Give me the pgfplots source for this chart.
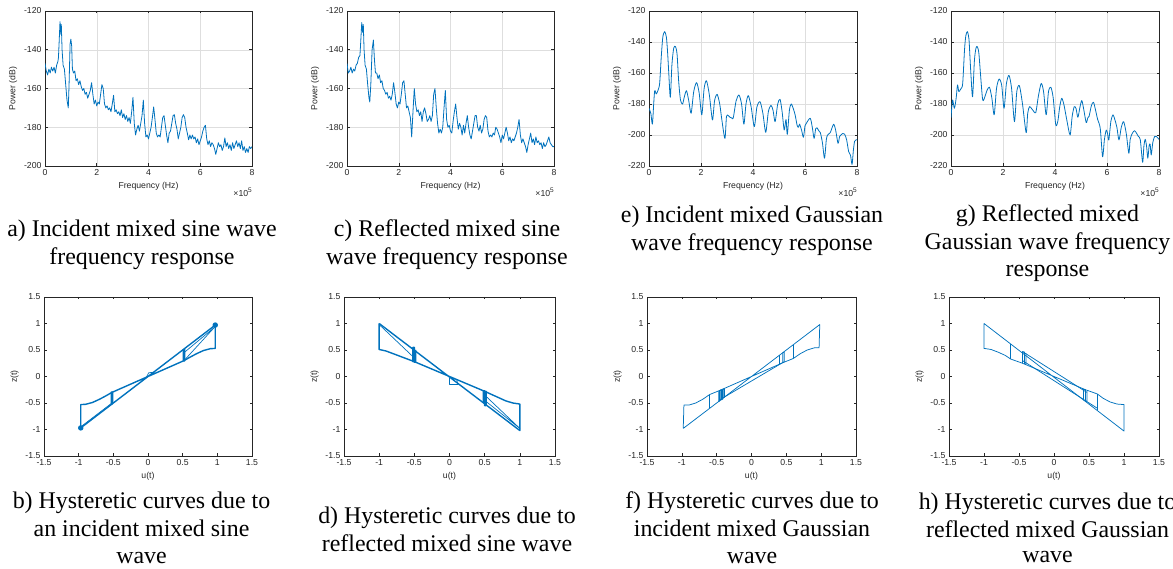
\documentclass[border=0pt]{standalone}
\usepackage{fontspec}
\setmainfont{Liberation Serif}
\newfontfamily\arial{Liberation Sans}
\usepackage{pgfplots}
\pgfplotsset{compat=1.18}
\definecolor{mblue}{RGB}{0,114,189}
\definecolor{axgray}{RGB}{38,38,38}
\newcommand{\tickfont}{\arial\fontsize{8.7}{10}\selectfont}
\newcommand{\capfont}{\fontsize{23.9}{28}\selectfont}
\pgfplotsset{
  mat/.style={scale only axis,
    axis line style={axgray, line width=0.5pt},
    tick style={axgray, line width=0.5pt},
    major tick length=2.5pt, tick align=inside,
    ticklabel style={font=\tickfont, text=axgray},
    label style={font=\tickfont, text=axgray},
    /pgf/number format/assume math mode=true,
    every axis plot post/.append style={mblue, solid, mark=none, line join=round}},
  spec/.style={mat, height=155pt, xmin=0, xmax=8, xtick={0,2,4,6,8},
    grid=major, grid style={black!13, line width=0.4pt},
    xlabel={Frequency (Hz)}, ylabel={Power (dB)},
    every axis plot/.append style={line width=0.8pt}},
  hyst/.style={mat, height=159pt, xmin=-1.5, xmax=1.5, ymin=-1.5, ymax=1.5,
    xtick={-1.5,-1,-0.5,0,0.5,1,1.5}, ytick={-1.5,-1,-0.5,0,0.5,1,1.5},
    xlabel={u(t)}, ylabel={z(t)}},
}
\begin{document}
\begin{tikzpicture}
% ---------------- a) incident sine spectrum
\begin{axis}[spec, name=A, at={(45pt,403pt)}, anchor=south west, width=207pt,
  ymin=-200, ymax=-120, ytick={-200,-180,-160,-140,-120}]
\addplot coordinates {(0,-147) (0.05,-151) (0.1,-153) (0.15,-150) (0.2,-152) (0.25,-149) (0.3,-151) (0.35,-149) (0.4,-152) (0.45,-148) (0.5,-146) (0.52,-144) (0.55,-135) (0.58,-125.5) (0.61,-132) (0.63,-127) (0.66,-140) (0.7,-148) (0.75,-150) (0.8,-158) (0.85,-166) (0.9,-170) (0.93,-158) (0.97,-137) (1.0,-134.5) (1.03,-138) (1.06,-150) (1.1,-152) (1.15,-151) (1.2,-156) (1.25,-155) (1.3,-158) (1.35,-156) (1.4,-159) (1.45,-161) (1.5,-160) (1.55,-163) (1.6,-162) (1.65,-165) (1.7,-163) (1.75,-161) (1.8,-157) (1.85,-163) (1.9,-168) (1.95,-166) (2.0,-169) (2.05,-167) (2.1,-168) (2.15,-163) (2.2,-158) (2.25,-160) (2.3,-168) (2.35,-170) (2.4,-169) (2.45,-171) (2.5,-170) (2.55,-172) (2.6,-168) (2.65,-163.5) (2.7,-172) (2.75,-171) (2.8,-173) (2.85,-172) (2.9,-174) (2.95,-171) (3.0,-175) (3.05,-173) (3.1,-176) (3.15,-174) (3.2,-177) (3.25,-175) (3.3,-178) (3.35,-172) (3.4,-164.5) (3.45,-178) (3.5,-184) (3.55,-181) (3.6,-179) (3.65,-182) (3.7,-178) (3.75,-174) (3.8,-166) (3.85,-178) (3.9,-185) (3.95,-184) (4.0,-186) (4.05,-183) (4.1,-180) (4.15,-175) (4.2,-169.5) (4.25,-176) (4.3,-183) (4.35,-185) (4.4,-184) (4.45,-185) (4.5,-180) (4.55,-175) (4.6,-174) (4.65,-179) (4.7,-184) (4.75,-188) (4.8,-183) (4.85,-182) (4.9,-178) (4.95,-174) (5.0,-173.5) (5.05,-178) (5.1,-181) (5.15,-186) (5.2,-183) (5.25,-180) (5.3,-175) (5.35,-173.5) (5.4,-175) (5.45,-180) (5.5,-183) (5.55,-186.5) (5.6,-184) (5.65,-186) (5.7,-184) (5.75,-186) (5.8,-185) (5.85,-188) (5.9,-186) (5.95,-189) (6.0,-187) (6.05,-185) (6.1,-182) (6.15,-180) (6.2,-179) (6.25,-186) (6.3,-189) (6.35,-187) (6.4,-190) (6.45,-188) (6.5,-189) (6.55,-191) (6.6,-194) (6.65,-191) (6.7,-188) (6.75,-190) (6.8,-189) (6.85,-192) (6.9,-190) (6.95,-185.5) (7.0,-190) (7.05,-188) (7.1,-191) (7.15,-189) (7.2,-192) (7.25,-188) (7.3,-191) (7.35,-189) (7.4,-187) (7.45,-190) (7.5,-188) (7.55,-191) (7.6,-187) (7.65,-192) (7.7,-190) (7.75,-193) (7.8,-191) (7.85,-193) (7.9,-190) (7.95,-191) (8.0,-190)};
\end{axis}
% ---------------- c) reflected sine spectrum
\begin{axis}[spec, name=C, at={(347pt,403pt)}, anchor=south west, width=207pt,
  ymin=-200, ymax=-120, ytick={-200,-180,-160,-140,-120}]
\addplot coordinates {(0,-147) (0.05,-152) (0.1,-151) (0.15,-149) (0.2,-152) (0.25,-150) (0.3,-151) (0.35,-148) (0.4,-147) (0.45,-144) (0.5,-143) (0.53,-136) (0.57,-126) (0.6,-131) (0.63,-127) (0.66,-140) (0.7,-148) (0.75,-150) (0.8,-158) (0.85,-165) (0.88,-167) (0.92,-158) (0.97,-140) (1.02,-135) (1.06,-145) (1.1,-152) (1.15,-152) (1.2,-155) (1.25,-153) (1.3,-157) (1.35,-156) (1.4,-160) (1.45,-161) (1.5,-163) (1.55,-162) (1.6,-165) (1.65,-164) (1.7,-166) (1.75,-163) (1.8,-157) (1.85,-162) (1.9,-168) (1.95,-170) (2.0,-167) (2.05,-168) (2.1,-163) (2.15,-157) (2.2,-156) (2.25,-163) (2.3,-170) (2.35,-169) (2.4,-172) (2.45,-175) (2.5,-185) (2.55,-172) (2.6,-160) (2.65,-168) (2.7,-172) (2.75,-171) (2.8,-174) (2.85,-172) (2.9,-177) (2.95,-172) (3.0,-170) (3.05,-173) (3.1,-177) (3.15,-176) (3.2,-174) (3.25,-177) (3.3,-174) (3.35,-163) (3.4,-160) (3.45,-170) (3.5,-178) (3.55,-183) (3.6,-181) (3.65,-183) (3.7,-180) (3.75,-170) (3.8,-161) (3.85,-176) (3.9,-180) (3.95,-179) (4.0,-182) (4.05,-183) (4.1,-177) (4.15,-172) (4.2,-168) (4.25,-175) (4.3,-181) (4.35,-178) (4.4,-180) (4.45,-184) (4.5,-179) (4.55,-183) (4.6,-178) (4.65,-174) (4.7,-180) (4.75,-184) (4.8,-186) (4.85,-182) (4.9,-178) (4.95,-174) (5.0,-174) (5.05,-180) (5.1,-182) (5.15,-179) (5.2,-183) (5.25,-181) (5.3,-176) (5.35,-174) (5.4,-175) (5.45,-182) (5.5,-185) (5.55,-184) (5.6,-185) (5.65,-183) (5.7,-184) (5.75,-180) (5.8,-181) (5.85,-183) (5.9,-185) (5.95,-188) (6.0,-184) (6.05,-186) (6.1,-183) (6.15,-180) (6.2,-183) (6.25,-187) (6.3,-185) (6.35,-188) (6.4,-186) (6.45,-187) (6.5,-185) (6.55,-183) (6.6,-180) (6.65,-176) (6.7,-184) (6.75,-188) (6.8,-186) (6.85,-188) (6.9,-190) (6.95,-193) (7.0,-189) (7.05,-186) (7.1,-183) (7.15,-188) (7.2,-186) (7.25,-189) (7.3,-185) (7.35,-188) (7.4,-187) (7.45,-189) (7.5,-188) (7.55,-191) (7.6,-188) (7.65,-190) (7.7,-189) (7.75,-187) (7.8,-185) (7.85,-188) (7.9,-189) (7.95,-190) (8.0,-190)};
\end{axis}
% ---------------- e) incident Gaussian spectrum
\begin{axis}[spec, name=E, at={(649pt,403pt)}, anchor=south west, width=208pt,
  ymin=-220, ymax=-120, ytick={-220,-200,-180,-160,-140,-120}]
\addplot+[smooth, tension=0.45] coordinates {(0,-182.8) (0.07,-186) (0.13,-193) (0.18,-180) (0.22,-171.4) (0.28,-173.5) (0.35,-171) (0.41,-166.7) (0.47,-150) (0.53,-137) (0.6,-133.3) (0.67,-137) (0.72,-148) (0.76,-160) (0.82,-175.7) (0.88,-155) (0.95,-144) (1.02,-143) (1.08,-148) (1.14,-165) (1.21,-177.4) (1.29,-180) (1.35,-176) (1.44,-171.4) (1.53,-178) (1.62,-186) (1.72,-172) (1.83,-166.2) (1.93,-173) (2.03,-187) (2.12,-170) (2.21,-165) (2.32,-174) (2.44,-190.3) (2.52,-178) (2.62,-173.8) (2.72,-180) (2.8,-190) (2.92,-202.2) (2.98,-188) (3.05,-187.5) (3.11,-188.5) (3.18,-189) (3.24,-189) (3.35,-178) (3.46,-174.2) (3.56,-180) (3.65,-193) (3.73,-180) (3.82,-174.6) (3.93,-182) (4.05,-194.6) (4.15,-182) (4.27,-178.5) (4.38,-186) (4.49,-198.3) (4.59,-185) (4.69,-180.9) (4.77,-184) (4.85,-191.4) (4.95,-180) (5.04,-177) (5.12,-185) (5.2,-196.8) (5.27,-190) (5.32,-199.6) (5.4,-184) (5.47,-180) (5.55,-183) (5.62,-187) (5.7,-194) (5.75,-195) (5.79,-193) (5.87,-197) (5.94,-201.5) (6.0,-194) (6.05,-192.5) (6.2,-189.2) (6.28,-195) (6.35,-202.2) (6.41,-196) (6.46,-195.3) (6.52,-197) (6.59,-198.5) (6.67,-205) (6.75,-215) (6.82,-203) (6.87,-200) (6.97,-198.5) (7.1,-193.1) (7.18,-197) (7.27,-205.4) (7.33,-201) (7.38,-200) (7.45,-199) (7.52,-199.4) (7.6,-203) (7.68,-210.8) (7.75,-213) (7.81,-219) (7.86,-210) (7.91,-204) (8,-203)};
\end{axis}
% ---------------- g) reflected Gaussian spectrum
\begin{axis}[spec, name=G, at={(951pt,403pt)}, anchor=south west, width=208pt,
  ymin=-220, ymax=-120, ytick={-220,-200,-180,-160,-140,-120}]
\addplot+[smooth, tension=0.45] coordinates {(0,-189) (0.06,-177.4) (0.13,-182.8) (0.2,-176) (0.25,-167.7) (0.3,-172) (0.35,-171) (0.39,-170) (0.45,-166.7) (0.52,-145) (0.57,-136) (0.63,-133.3) (0.69,-138) (0.73,-150) (0.77,-162) (0.83,-175.3) (0.9,-152) (0.96,-144) (1.01,-143) (1.07,-147) (1.14,-162) (1.22,-177.4) (1.31,-175) (1.39,-171) (1.48,-169.2) (1.57,-176) (1.66,-187) (1.75,-170) (1.85,-163.9) (1.95,-168) (2.04,-182.8) (2.13,-167) (2.23,-161.5) (2.33,-170) (2.44,-191.4) (2.53,-172) (2.63,-168.2) (2.75,-180) (2.89,-198.5) (2.95,-186) (3.02,-181.7) (3.1,-183) (3.17,-184.5) (3.26,-185.6) (3.36,-175) (3.47,-166.7) (3.56,-172) (3.66,-187) (3.75,-172) (3.84,-169.2) (3.93,-176) (4.03,-193.5) (4.11,-191) (4.18,-182) (4.26,-176.3) (4.35,-181) (4.45,-190) (4.58,-200) (4.66,-188) (4.74,-181.7) (4.81,-183) (4.88,-188.6) (4.96,-182) (5.03,-177.8) (5.1,-183) (5.2,-192) (5.26,-189) (5.31,-188) (5.4,-181) (5.48,-178.9) (5.56,-184) (5.64,-190) (5.74,-195.7) (5.83,-214) (5.9,-203) (5.97,-196.8) (6.02,-199) (6.07,-203.2) (6.15,-191) (6.23,-187) (6.3,-190) (6.38,-195) (6.46,-203.2) (6.55,-195) (6.64,-191.4) (6.74,-199) (6.84,-211.8) (6.89,-203) (6.97,-199) (7.06,-197.2) (7.14,-199) (7.21,-201) (7.28,-203) (7.37,-217.6) (7.42,-207) (7.47,-202.8) (7.52,-207) (7.57,-215) (7.62,-207) (7.66,-206) (7.7,-212.9) (7.76,-205) (7.83,-201) (7.9,-201) (8,-202.8)};
\end{axis}
\foreach \n in {A,C,E,G}{
  \node[font=\tickfont, text=axgray, anchor=north east, inner sep=0pt] at ([yshift=-22pt]\n.south east) {×10\raisebox{0.45em}{\fontsize{6.5}{7}\selectfont 5}};
}
% ---------------- b) incident sine hysteresis
\begin{axis}[hyst, at={(44pt,113pt)}, anchor=south west, width=208pt,
  every axis plot/.append style={line width=1.4pt}]
\addplot coordinates {(-0.97,-0.97) (0.97,0.97) (0.97,0.53) (0.9,0.525) (0.8,0.49) (0.7,0.43) (0.6,0.36) (0.52,0.3) (0,0) (-0.52,-0.3) (-0.6,-0.36) (-0.7,-0.43) (-0.8,-0.49) (-0.9,-0.525) (-0.97,-0.53) (-0.97,-0.97)};
\addplot coordinates {(0.51,0.29) (0.51,0.5) (0.52,0.5) (0.52,0.29) (0.53,0.3) (0.53,0.52)};
\addplot coordinates {(-0.51,-0.29) (-0.51,-0.5) (-0.52,-0.52) (-0.52,-0.29) (-0.53,-0.3) (-0.53,-0.53)};
\addplot[line width=0.7pt] coordinates {(0.52,0.3) (0.96,0.93) (0.52,0.45)};
\addplot[line width=0.7pt] coordinates {(-0.52,-0.5) (-0.97,-0.95)};
\addplot[line width=0.7pt] coordinates {(-0.03,-0.03) (0.01,0.07) (0.08,0.08) (0.06,0.03)};
\addplot[only marks] coordinates {(0.97,0.97) (-0.97,-0.97)} node[pos=0, circle, fill=mblue, inner sep=1.4pt] {} node[pos=1, circle, fill=mblue, inner sep=1.4pt] {};
\end{axis}
% ---------------- d) reflected sine hysteresis
\begin{axis}[hyst, at={(344pt,113pt)}, anchor=south west, width=211pt,
  every axis plot/.append style={line width=1.4pt}]
\addplot coordinates {(-1,1) (1,-1.02) (1,-0.52) (0.9,-0.5) (0.8,-0.46) (0.7,-0.4) (0.6,-0.34) (0.5,-0.28) (0,0) (-0.5,0.28) (-0.6,0.33) (-0.7,0.38) (-0.8,0.43) (-0.9,0.48) (-1,0.51) (-1,1)};
\addplot coordinates {(-0.52,0.27) (-0.52,0.55) (-0.5,0.55) (-0.5,0.27) (-0.48,0.28) (-0.48,0.5)};
\addplot coordinates {(0.52,-0.27) (0.52,-0.55) (0.5,-0.55) (0.5,-0.27) (0.48,-0.28) (0.48,-0.5)};
\addplot[line width=0.7pt] coordinates {(0.5,-0.35) (1,-0.98) (0.5,-0.45)};
\addplot[line width=0.7pt] coordinates {(-0.5,0.35) (-1,0.98)};
\addplot[line width=0.7pt] coordinates {(0,-0.02) (0,-0.15) (0.12,-0.15) (0.1,-0.05)};
\end{axis}
% ---------------- f) incident Gaussian hysteresis
\begin{axis}[hyst, at={(647pt,113pt)}, anchor=south west, width=209pt,
  every axis plot/.append style={line width=0.75pt}]
\addplot coordinates {(-0.98,-0.98) (0.98,0.98) (0.97,0.54) (0.9,0.54) (0.8,0.5) (0.7,0.43) (0.6,0.34) (0.45,0.26) (0,0) (-0.45,-0.26) (-0.6,-0.34) (-0.7,-0.43) (-0.8,-0.5) (-0.9,-0.54) (-0.97,-0.54) (-0.98,-0.98)};
\addplot coordinates {(0.6,0.34) (0.6,0.6)};
\addplot coordinates {(0.4,0.23) (0.4,0.4)};
\addplot coordinates {(0.45,0.26) (0.45,0.45) (0.47,0.46) (0.47,0.27)};
\addplot coordinates {(-0.6,-0.34) (-0.6,-0.6)};
\addplot[line width=1pt] coordinates {(-0.47,-0.27) (-0.47,-0.47) (-0.45,-0.45) (-0.45,-0.26) (-0.43,-0.25) (-0.43,-0.44) (-0.41,-0.42) (-0.41,-0.24) (-0.39,-0.23) (-0.39,-0.4)};
\addplot coordinates {(-0.47,-0.45) (0.47,0.28)};
\end{axis}
% ---------------- h) reflected Gaussian hysteresis
\begin{axis}[hyst, at={(949pt,113pt)}, anchor=south west, width=210pt,
  every axis plot/.append style={line width=0.75pt}]
\addplot coordinates {(-1,1) (1,-1.03) (1,-0.53) (0.9,-0.52) (0.8,-0.48) (0.7,-0.41) (0.62,-0.33) (0.45,-0.25) (0,0) (-0.45,0.25) (-0.62,0.33) (-0.7,0.4) (-0.8,0.46) (-0.9,0.51) (-1,0.53) (-1,1)};
\addplot coordinates {(-0.62,0.33) (-0.62,0.62)};
\addplot coordinates {(0.62,-0.33) (0.62,-0.63)};
\addplot coordinates {(-0.45,0.25) (-0.45,0.47) (-0.42,0.46) (-0.42,0.24) (-0.4,0.23) (-0.4,0.44)};
\addplot coordinates {(0.47,-0.27) (0.47,-0.47) (0.45,-0.46) (0.45,-0.25) (0.42,-0.24) (0.42,-0.45)};
\addplot coordinates {(-0.45,0.47) (0.47,-0.3)};
\addplot coordinates {(-0.45,0.3) (0.62,-0.6)};
\end{axis}
% ---------------- captions
\begin{scope}[every node/.style={font=\capfont, anchor=base, inner sep=0pt}]
\node at (142pt,332.3pt) {a) Incident mixed sine wave};
\node at (142pt,304pt) {frequency response};
\node at (447pt,332.3pt) {c) Reflected mixed sine};
\node at (447pt,304pt) {wave frequency response};
\node at (752pt,346.3pt) {e) Incident mixed Gaussian};
\node at (752pt,318.3pt) {wave frequency response};
\node at (1047.5pt,347.3pt) {g) Reflected mixed};
\node at (1047.5pt,319pt) {Gaussian wave frequency};
\node at (1047.5pt,292.3pt) {response};
\node at (141.5pt,60.7pt) {b) Hysteretic curves due to};
\node at (141.5pt,32.3pt) {an incident mixed sine};
\node at (141.5pt,5pt) {wave};
\node at (447pt,45.3pt) {d) Hysteretic curves due to};
\node at (447pt,17.3pt) {reflected mixed sine wave};
\node at (752pt,60.7pt) {f) Hysteretic curves due to};
\node at (752pt,32.3pt) {incident mixed Gaussian};
\node at (752pt,5pt) {wave};
\node at (1047.5pt,59.7pt) {h) Hysteretic curves due to};
\node at (1047.5pt,31.7pt) {reflected mixed Gaussian};
\node at (1047.5pt,6pt) {wave};
\end{scope}
\pgfresetboundingbox
\path (0pt,0pt) rectangle (1173pt,569pt);
\end{tikzpicture}
\end{document}
